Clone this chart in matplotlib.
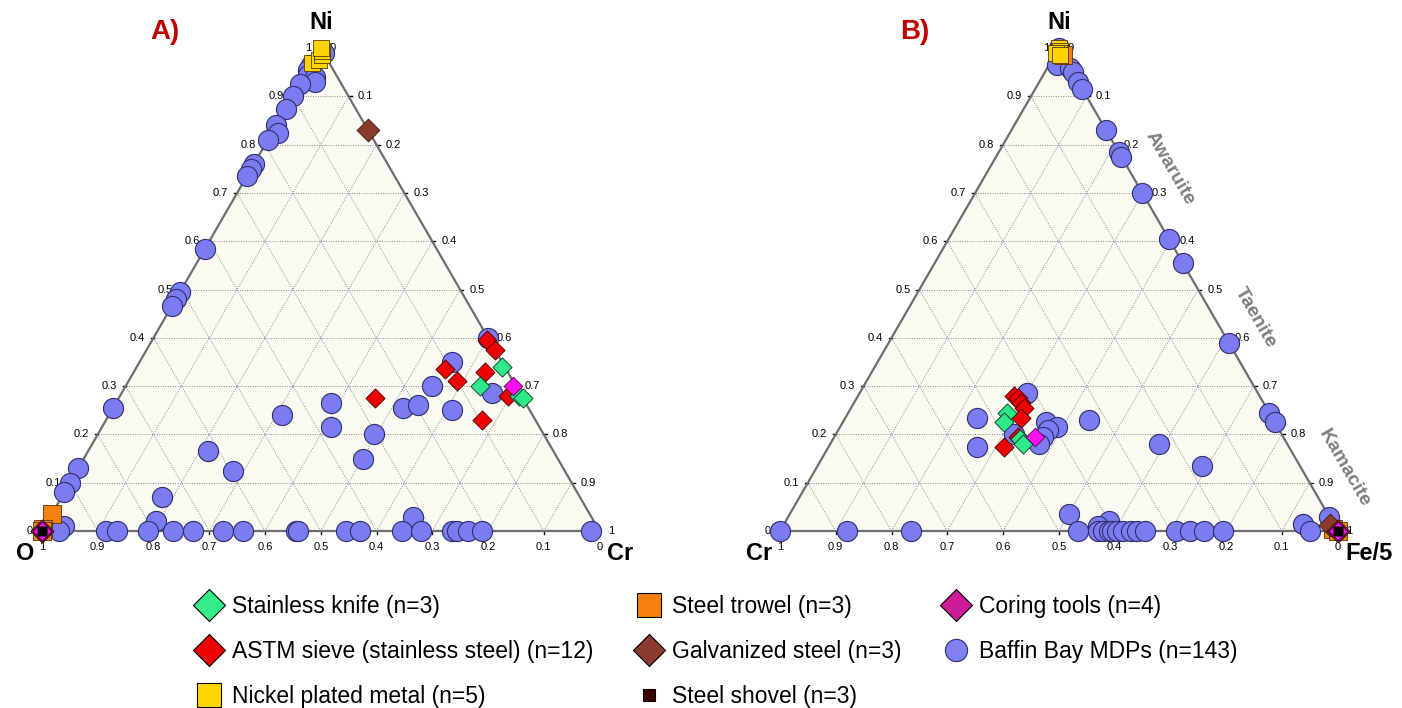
import matplotlib.pyplot as plt
from matplotlib.lines import Line2D
import numpy as np

plt.rcParams['font.family'] = ['Liberation Sans', 'DejaVu Sans']

# ---------- panel A : Ni (top), Cr (right), O (left, = rest) ----------
mdp_a_ni = [0.99, 0.965, 0.955, 0.945, 0.94, 0.93, 0.925, 0.90, 0.875, 0.84, 0.825, 0.81,
            0.76, 0.75, 0.735, 0.585, 0.495, 0.48, 0.465, 0.255, 0.13, 0.10, 0.08, 0.01, 0.0,
            0.24, 0.165, 0.125, 0.07, 0.02, 0.265, 0.215, 0.255, 0.26, 0.25, 0.30, 0.35,
            0.285, 0.40, 0.20, 0.15, 0.03,
            0, 0, 0, 0, 0, 0, 0, 0, 0, 0, 0, 0, 0, 0, 0, 0, 0, 0]
mdp_a_cr = [0.01, 0.0, 0.0, 0.005, 0.02, 0.025, 0.0, 0.0, 0.0, 0.0, 0.01, 0.0,
            0.0, 0.0, 0.0, 0.0, 0.0, 0.0, 0.0, 0.0, 0.0, 0.0, 0.0, 0.035, 0.03,
            0.31, 0.215, 0.28, 0.18, 0.195, 0.385, 0.41, 0.52, 0.545, 0.61, 0.55, 0.56,
            0.665, 0.60, 0.495, 0.50, 0.65,
            0.115, 0.135, 0.19, 0.235, 0.27, 0.325, 0.36, 0.455, 0.46, 0.545, 0.57,
            0.645, 0.68, 0.735, 0.745, 0.765, 0.79, 0.985]

knife_a_ni = [0.34, 0.30, 0.28, 0.275]
knife_a_cr = [0.655, 0.635, 0.715, 0.725]
sieve_a_ni = [0.395, 0.375, 0.335, 0.31, 0.33, 0.28, 0.23, 0.275]
sieve_a_cr = [0.60, 0.625, 0.555, 0.59, 0.63, 0.695, 0.675, 0.46]
nickel_a_ni = [0.97, 0.975, 0.985, 0.995, 1.0]
nickel_a_cr = [0.0, 0.01, 0.01, 0.005, 0.0]
trowel_a_ni = [0.035, 0.005, 0.0]
trowel_a_cr = [0.0, 0.0, 0.0]
galv_a_ni = [0.83, 0.0, 0.0]
galv_a_cr = [0.17, 0.0, 0.0]
shovel_a_ni = [0.0, 0.0, 0.0]
shovel_a_cr = [0.0, 0.0, 0.0]
coring_a_ni = [0.30, 0.0, 0.0, 0.0]
coring_a_cr = [0.695, 0.0, 0.0, 0.0]

# ---------- panel B : Ni (top), Fe/5 (right), Cr (left, = rest) ----------
mdp_b_ni = [1.0, 0.995, 0.965, 0.96, 0.95, 0.93, 0.915, 0.83, 0.785, 0.775, 0.70, 0.605,
            0.555, 0.39, 0.245, 0.225, 0.03, 0.015, 0.0,
            0.23, 0.18, 0.135, 0.285, 0.235, 0.175, 0.20, 0.225, 0.215, 0.21, 0.195, 0.18,
            0.035, 0.02, 0.01,
            0, 0, 0, 0, 0, 0, 0, 0, 0, 0, 0, 0, 0, 0, 0, 0, 0]
mdp_b_fe = [0.0, 0.005, 0.015, 0.04, 0.05, 0.07, 0.085, 0.17, 0.215, 0.225, 0.30, 0.395,
            0.445, 0.61, 0.755, 0.775, 0.97, 0.93, 0.95,
            0.44, 0.59, 0.69, 0.30, 0.235, 0.265, 0.32, 0.365, 0.39, 0.375, 0.375, 0.375,
            0.50, 0.58, 0.565,
            0.0, 0.12, 0.235, 0.535, 0.57, 0.58, 0.59, 0.595, 0.605, 0.615, 0.63, 0.64,
            0.655, 0.71, 0.735, 0.76, 0.795]

knife_b_ni = [0.245, 0.225, 0.19, 0.18]
knife_b_fe = [0.285, 0.29, 0.335, 0.345]
sieve_b_ni = [0.28, 0.275, 0.265, 0.255, 0.235, 0.195, 0.175]
sieve_b_fe = [0.28, 0.29, 0.30, 0.31, 0.315, 0.33, 0.315]
nickel_b_ni = [1.0, 0.995, 0.99, 0.99, 0.985]
nickel_b_fe = [0.0, 0.005, 0.005, 0.0, 0.01]
trowel_b_ni = [0.985, 0.005, 0.0]
trowel_b_fe = [0.015, 0.99, 1.0]
galv_b_ni = [0.012, 0.0, 0.0]
galv_b_fe = [0.98, 1.0, 1.0]
shovel_b_ni = [0.0, 0.0, 0.0]
shovel_b_fe = [1.0, 1.0, 1.0]
coring_b_ni = [0.195, 0.0, 0.0, 0.0]
coring_b_fe = [0.36, 1.0, 1.0, 1.0]

legend_labels = ['Stainless knife (n=3)', 'ASTM sieve (stainless steel) (n=12)',
                 'Nickel plated metal (n=5)', 'Steel trowel (n=3)', 'Galvanized steel (n=3)',
                 'Steel shovel (n=3)', 'Coring tools (n=4)', 'Baffin Bay MDPs (n=143)']

H = np.sqrt(3) / 2
PX = 1 / 557.5   # one pixel in triangle units


def to_xy(ni, right):
    ni = np.asarray(ni, dtype=float)
    right = np.asarray(right, dtype=float)
    return right + ni / 2, ni * H


def fmt(v):
    if v == 0:
        return '0'
    if v == 1:
        return '1'
    return '%.1f' % v


def frame(ax):
    tri_x = [0, 1, 0.5, 0]
    tri_y = [0, 0, H, 0]
    ax.fill(tri_x, tri_y, color='#fafaf3', zorder=0)
    for k in range(1, 10):
        v = k / 10
        kw = dict(color='#8a8a8a', lw=0.7, ls=(0, (1, 1.5)), zorder=1)
        # constant top component
        ax.plot([v / 2, 1 - v / 2], [v * H, v * H], **kw)
        # constant right component
        ax.plot([v, v + (1 - v) / 2], [0, (1 - v) * H], **kw)
        # constant left component
        ax.plot([1 - v, (1 - v) / 2], [0, (1 - v) * H], **kw)
        # ticks
        ax.plot([v / 2, v / 2 - 3 * PX], [v * H, v * H], color='k', lw=1, zorder=2)
        xr = v + (1 - v) / 2
        ax.plot([xr, xr + 3 * PX], [(1 - v) * H, (1 - v) * H], color='k', lw=1, zorder=2)
        ax.plot([1 - v, 1 - v], [0, -3 * PX], color='k', lw=1, zorder=2)
    ax.plot(tri_x, tri_y, color='#6e6e6e', lw=1.6, zorder=2)
    for i in range(11):
        v = i / 10
        ax.text(v / 2 - 9 * PX, v * H, fmt(v), ha='right', va='center', fontsize=8)
        ax.text(v + (1 - v) / 2 + 9 * PX, (1 - v) * H, fmt(v), ha='left', va='center',
                fontsize=8)
        ax.text(1 - v, -16 * PX, fmt(v), ha='center', va='center', fontsize=8)


def points(ax, ni, right, **kw):
    x, y = to_xy(ni, right)
    ax.scatter(x, y, clip_on=False, **kw)


def panel(ax, d):
    frame(ax)
    points(ax, d['mdp'][0], d['mdp'][1], s=210, marker='o', c='#7b7bf2',
           edgecolors='#2e2e6a', linewidths=0.8, zorder=3)
    points(ax, d['sieve'][0], d['sieve'][1], s=95, marker='D', c='#ee0000',
           edgecolors='#400000', linewidths=0.6, zorder=4)
    points(ax, d['knife'][0], d['knife'][1], s=95, marker='D', c='#2ee88a',
           edgecolors='#103020', linewidths=0.6, zorder=4)
    points(ax, d['trowel'][0], d['trowel'][1], s=160, marker='s', c='#f58210',
           edgecolors='#5a3000', linewidths=0.6, zorder=5)
    points(ax, d['nickel'][0], d['nickel'][1], s=140, marker='s', c='#ffd200',
           edgecolors='#4a3c00', linewidths=0.6, zorder=6)
    points(ax, d['galv'][0], d['galv'][1], s=135, marker='D', c='#8b3a2e',
           edgecolors='#3a1510', linewidths=0.6, zorder=6)
    points(ax, d['coring'][0], d['coring'][1], s=90, marker='D', c='#ff10ee',
           edgecolors='#500050', linewidths=0.6, zorder=7)
    points(ax, d['shovel'][0], d['shovel'][1], s=35, marker='s', c='#000000',
           zorder=8)
    ax.set_xlim(d['xlim'])
    ax.set_ylim(-39 * PX, 531 * PX)
    ax.axis('off')


def main():
    fig = plt.figure(figsize=(14.02, 7.08), dpi=100)
    ax_a = fig.add_axes([0, 138 / 708, 700 / 1402, 570 / 708])
    ax_b = fig.add_axes([720 / 1402, 138 / 708, 682 / 1402, 570 / 708])

    panel(ax_a, dict(mdp=(mdp_a_ni, mdp_a_cr), knife=(knife_a_ni, knife_a_cr),
                     sieve=(sieve_a_ni, sieve_a_cr), nickel=(nickel_a_ni, nickel_a_cr),
                     trowel=(trowel_a_ni, trowel_a_cr), galv=(galv_a_ni, galv_a_cr),
                     shovel=(shovel_a_ni, shovel_a_cr), coring=(coring_a_ni, coring_a_cr),
                     xlim=(-42 * PX, 658 * PX)))
    panel(ax_b, dict(mdp=(mdp_b_ni, mdp_b_fe), knife=(knife_b_ni, knife_b_fe),
                     sieve=(sieve_b_ni, sieve_b_fe), nickel=(nickel_b_ni, nickel_b_fe),
                     trowel=(trowel_b_ni, trowel_b_fe), galv=(galv_b_ni, galv_b_fe),
                     shovel=(shovel_b_ni, shovel_b_fe), coring=(coring_b_ni, coring_b_fe),
                     xlim=(-60 * PX, 622 * PX)))

    vkw = dict(fontsize=17, fontweight='bold')
    for ax, left, right in [(ax_a, 'O', 'Cr'), (ax_b, 'Cr', 'Fe/5')]:
        ax.text(0.5, H + 26 * PX, 'Ni', ha='center', va='center', **vkw)
        ax.text(-8 * PX, -11 * PX, left, ha='right', va='top', **vkw)
        ax.text(1 + 8 * PX, -11 * PX, right, ha='left', va='top', **vkw)

    tkw = dict(fontsize=20, fontweight='bold', color='#c00000', ha='center', va='center')
    ax_a.text(123 * PX, 499 * PX, 'A)', **tkw)
    ax_b.text(135 * PX, 499 * PX, 'B)', **tkw)

    mkw = dict(fontsize=14, fontweight='bold', color='#7f7f7f', rotation=-60,
               rotation_mode='anchor', ha='center', va='center')
    ax_b.text(0.700, 0.650, 'Awaruite', **mkw)
    ax_b.text(0.852, 0.382, 'Taenite', **mkw)
    ax_b.text(1.013, 0.113, 'Kamacite', **mkw)

    def h(marker, fc, ec='k', ms=16):
        return Line2D([], [], ls='none', marker=marker, markerfacecolor=fc,
                      markeredgecolor=ec, markersize=ms, markeredgewidth=0.8)

    handles = [h('D', '#33ee88'), h('D', '#ee0000'), h('s', '#ffd700', ms=17),
               h('s', '#f57f0f', ms=17), h('D', '#8b3a2e'), h('s', '#3a0000', ms=8),
               h('D', '#cc1a99'), h('o', '#8080f5', ec='#2e2e6a', ms=16)]
    fig.legend(handles, legend_labels, loc='lower center', bbox_to_anchor=(0.512, -0.029),
               ncol=3, frameon=False, fontsize=16.5, columnspacing=1.9, labelspacing=0.95,
               handletextpad=0.5, handlelength=1.0)

    plt.savefig('out.png', dpi=100)


if __name__ == '__main__':
    main()
